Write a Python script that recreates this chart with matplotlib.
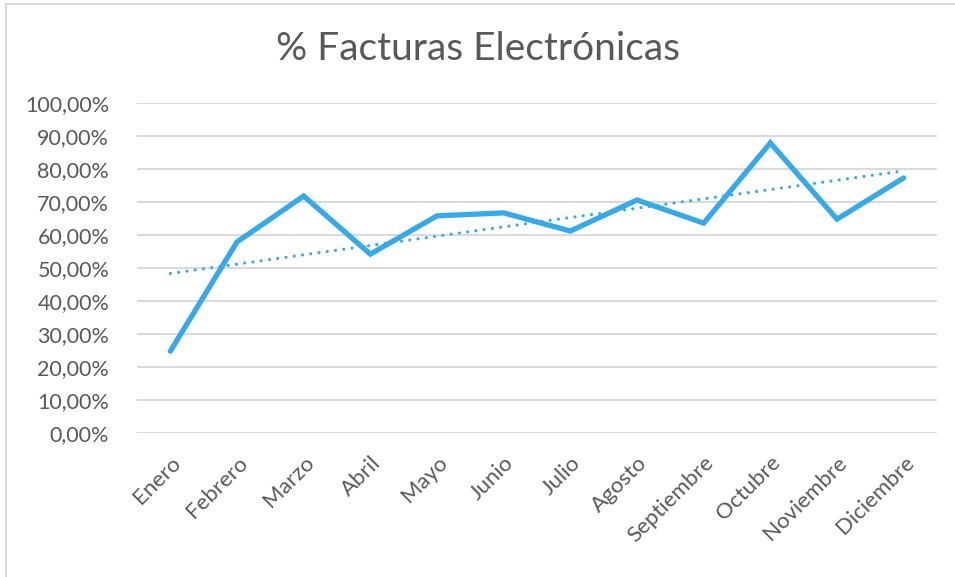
import numpy as np
import matplotlib
matplotlib.use("Agg")
import matplotlib.pyplot as plt
from matplotlib.lines import Line2D
from matplotlib.ticker import FuncFormatter

meses = ["Enero", "Febrero", "Marzo", "Abril", "Mayo", "Junio", "Julio",
         "Agosto", "Septiembre", "Octubre", "Noviembre", "Diciembre"]
pct_electronicas = [0.248, 0.579, 0.718, 0.542, 0.658, 0.667, 0.612,
                    0.706, 0.636, 0.879, 0.648, 0.773]

plt.rcParams['font.family'] = ['Lato', 'DejaVu Sans']
gris = "#595959"
azul = "#35a9e9"

fig = plt.figure(figsize=(9.55, 5.77), dpi=100)
ax = fig.add_axes([137 / 955, 144 / 577, 800 / 955, 330 / 577])

x = np.arange(len(meses))
ax.plot(x, pct_electronicas, color=azul, lw=3.8, solid_capstyle='round',
        solid_joinstyle='miter', zorder=3)

# linea de tendencia lineal (punteada, como en Excel)
coef = np.polyfit(x, pct_electronicas, 1)
ax.plot(x, np.polyval(coef, x), color=azul, lw=2.3, ls=(0, (0.01, 2.6)),
        dash_capstyle='round', zorder=2)

ax.set_xlim(-0.5, len(meses) - 0.5)
ax.set_ylim(0, 1.0)
ax.set_yticks(np.arange(0, 1.01, 0.1))
ax.yaxis.set_major_formatter(FuncFormatter(lambda v, p: f"{v * 100:.2f}%".replace(".", ",")))
ax.set_xticks(x)
ax.set_xticklabels(meses, rotation=45, ha='right', va='top',
                   rotation_mode='anchor')
ax.tick_params(axis='both', length=0, labelcolor=gris)
ax.tick_params(axis='x', pad=14, labelsize=16)
ax.tick_params(axis='y', pad=20, labelsize=15.5)
ax.grid(axis='y', color='#d9d9d9', lw=1.4)
ax.set_axisbelow(True)
for s in ax.spines.values():
    s.set_visible(False)

fig.text(0.5, 1 - 49 / 577, "% Facturas Electrónicas", ha='center', va='center',
         fontsize=28, color=gris)

# marco del grafico
fig.add_artist(Line2D([5.5 / 955, 5.5 / 955], [0, 1 - 4 / 577],
                      transform=fig.transFigure, color='#d9d9d9', lw=1.5))
fig.add_artist(Line2D([5.5 / 955, 1], [1 - 4 / 577, 1 - 4 / 577],
                      transform=fig.transFigure, color='#d9d9d9', lw=1.5))

fig.savefig("out.png", dpi=100)
